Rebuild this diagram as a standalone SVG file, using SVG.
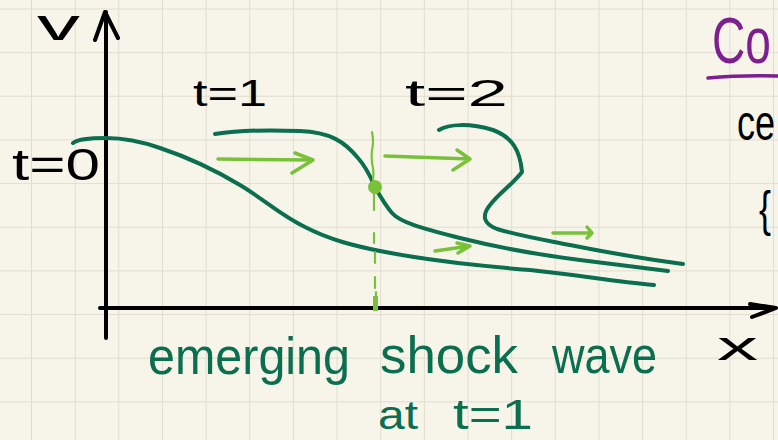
<svg xmlns="http://www.w3.org/2000/svg" width="778" height="440" viewBox="0 0 778 440">
  <defs>
    <pattern id="grid" patternUnits="userSpaceOnUse" x="31" y="8.5" width="43.65" height="43.65">
      <path d="M0,0 L43.65,0 M0,0 L0,43.65" fill="none" stroke="#e0ddd0" stroke-width="2"/>
    </pattern>
    <style>
      .ax{fill:none;stroke:#000;stroke-width:4;stroke-linecap:round;stroke-linejoin:round}
      .cv{fill:none;stroke:#0a6e4f;stroke-width:4;stroke-linecap:round;stroke-linejoin:round}
      .ar{fill:none;stroke:#7ac13a;stroke-width:3.5;stroke-linecap:round;stroke-linejoin:round}
      .sh{fill:none;stroke:#7ac13a;stroke-width:2.2;stroke-linecap:round}
      .bk{font-family:"Liberation Sans","DejaVu Sans",sans-serif;fill:#000}
      .gr{font-family:"Liberation Sans","DejaVu Sans",sans-serif;fill:#0a6e4f}
      .pu{font-family:"Liberation Sans","DejaVu Sans",sans-serif;fill:#7d1f8f}
    </style>
  </defs>
  <rect width="778" height="440" fill="#f7f5ea"/>
  <rect width="778" height="440" fill="url(#grid)"/>

  <g id="axes">
    <path class="ax" d="M106,338 L106,12 M95,40 L105,12 L118,38"/>
    <path class="ax" d="M100,308 L776,308 M750,304 L776,308 L752,317"/>
    <text class="bk" x="37" y="40" font-size="44" textLength="43" lengthAdjust="spacingAndGlyphs">v</text>
    <text class="bk" x="717" y="360" font-size="40" textLength="41" lengthAdjust="spacingAndGlyphs">x</text>
  </g>

  <g id="curves">
    <path id="curve-t0" class="cv" d="M73,143 C78,139 90,138 106,138 C125,138 140,141 160,148 C190,158 215,170 240,185 C265,200 280,215 305,227 C330,240 355,246 380,251 C430,261 480,266 530,270 C580,275 610,281 654,285"/>
    <path id="curve-t1" class="cv" d="M215,134 C240,130 275,130 300,131 C330,132 345,142 358,158 C367,168 371,178 375,187 C380,196 385,205 392,213 C400,222 420,228 460,238 C500,248 540,255 580,260 C620,265 645,268 668,271"/>
    <path id="curve-t2" class="cv" d="M439,130 C448,124 470,123 493,130 C512,137 520,150 522,172 C512,185 500,192 490,205 C481,216 484,224 497,229 C520,236 545,240 570,245 C610,253 645,259 683,264"/>
  </g>

  <g id="arrows">
    <path class="ar" d="M218,159 L313,160 M295,153 L313,160 L292,173"/>
    <path class="ar" d="M385,156 L470,159 M457,150 L470,159 L453,170"/>
    <path class="ar" d="M435,251 L470,246 M457,243 L470,246 L458,253"/>
    <path class="ar" d="M553,233 L592,233 M587,227 L592,233 L587,238"/>
  </g>

  <g id="shock">
    <path class="sh" d="M372,132 Q374,142 372,150 Q371,160 373,168 Q374,174 373,180"/>
    <path class="sh" d="M374,190 L374,210 M374,233 L374,243 M375,252 L375,263 M375,277 L375,288 M376,292 L376,310"/>
    <path d="M373,296 L378,296 L378,311 L373,311 Z" fill="#7ac13a"/>
    <circle cx="375" cy="187" r="7" fill="#7ac13a"/>
  </g>

  <g id="labels">
    <text class="bk" x="12" y="180" font-size="44" textLength="88" lengthAdjust="spacingAndGlyphs">t=0</text>
    <text class="bk" x="193" y="106" font-size="36" textLength="74" lengthAdjust="spacingAndGlyphs">t=1</text>
    <text class="bk" x="405" y="106" font-size="36" textLength="103" lengthAdjust="spacingAndGlyphs">t=2</text>
    <text class="gr" x="148" y="374" font-size="52" textLength="202" lengthAdjust="spacingAndGlyphs">emerging</text>
    <text class="gr" x="380" y="373" font-size="52" textLength="138" lengthAdjust="spacingAndGlyphs">shock</text>
    <text class="gr" x="552" y="373" font-size="52" textLength="105" lengthAdjust="spacingAndGlyphs">wave</text>
    <text class="gr" x="378" y="429" font-size="40" textLength="40" lengthAdjust="spacingAndGlyphs">at</text>
    <text class="gr" x="453" y="429" font-size="42" textLength="80" lengthAdjust="spacingAndGlyphs">t=1</text>
  </g>

  <g id="margin-notes">
    <text class="pu" transform="translate(712,63) scale(1,1.4)" x="0" y="0" font-size="46">Co</text>
    <path d="M708,78 Q740,75 778,76" fill="none" stroke="#7d1f8f" stroke-width="3.5" stroke-linecap="round"/>
    <text class="bk" transform="translate(737,140) scale(1,1.4)" x="0" y="0" font-size="36">ce</text>
    <text class="bk" x="759" y="226" font-size="50" textLength="12" lengthAdjust="spacingAndGlyphs">{</text>
  </g>
</svg>
